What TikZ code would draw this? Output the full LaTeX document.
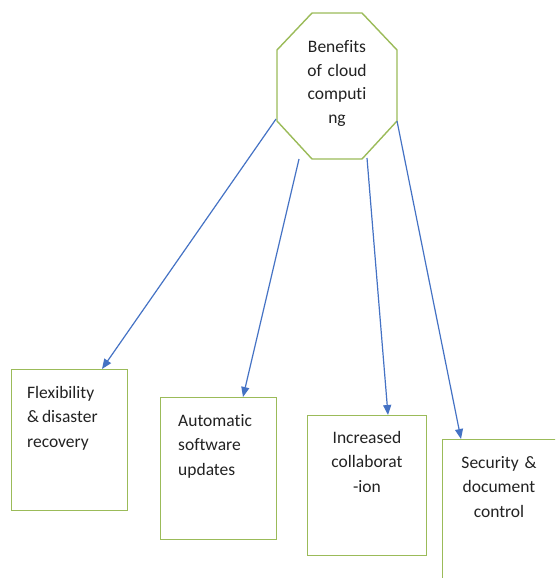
\documentclass[tikz,border=0pt]{standalone}
\usepackage{fontspec}
\setmainfont{Carlito}[Ligatures={NoCommon}]
\usetikzlibrary{arrows.meta,calc}
\definecolor{ogreen}{HTML}{9BBB59}
\definecolor{oblue}{HTML}{4472C4}
\definecolor{txt}{HTML}{222222}
\newcommand{\nl}{\kern0pt }
\tikzset{
  boxnode/.style={draw=ogreen, line width=1.4pt, anchor=north west, inner sep=0pt},
  octline/.style={draw=ogreen, line width=1.4pt, line join=miter},
  lbl/.style={font=\fontsize{17.5}{24.5}\selectfont, text=txt, inner sep=0pt},
  arr/.style={draw=oblue, line width=1.2pt, -{Triangle[length=10pt,width=8pt]}}
}
\begin{document}
\begin{tikzpicture}[x=1pt,y=-1pt]
\useasboundingbox (0,0) rectangle (555,578);
\clip (0,0) rectangle (555,578);
% octagon
\coordinate (v1) at (312,13);
\coordinate (v2) at (362,13);
\coordinate (v3) at (397,50);
\coordinate (v4) at (397,121);
\coordinate (v5) at (362,159);
\coordinate (v6) at (312,159);
\coordinate (v7) at (277,121);
\coordinate (v8) at (277,50);
\path[octline, fill=white] (v1) -- (v2) -- (v3) -- (v4) -- (v5) -- (v6) -- (v7) -- (v8) -- cycle;
\node[lbl, font=\fontsize{17.5}{23.5}\selectfont, text width=80pt, align=center, anchor=base] (oct) at (337,52.5) {Benef\nl its\\of cloud\\comput\nl i\\ng};
% boxes
\node[boxnode, minimum width=116pt, minimum height=141pt] (b1) at (11,369) {};
\node[boxnode, minimum width=116pt, minimum height=142pt] (b2) at (160,397) {};
\node[boxnode, minimum width=119pt, minimum height=140pt] (b3) at (307,415) {};
\node[boxnode, minimum width=150pt, minimum height=170pt] (b4) at (442,439) {};
% texts
\node[lbl, text width=100pt, align=left, anchor=base west] (t1) at (27,398) {Flexibility\\\&\,disaster\\recovery};
\node[lbl, text width=100pt, align=left, anchor=base west] (t2) at (178,426) {Automat\nl ic\\sof\nl tware\\updates};
\node[lbl, text width=110pt, align=center, anchor=base] (t3) at (367,443) {Increased\\collaborat\\-ion};
\node[lbl, text width=110pt, align=center, anchor=base] (t4) at (499,468) {Security \&\\document\\control};
% connector start points
\coordinate (s1) at (276,119);
\coordinate (s2) at (299,159);
\coordinate (s3) at (367,158);
\coordinate (s4) at (397,121);
% arrows
\draw[arr] (s1) -- ([xshift=91pt]b1.north west);
\draw[arr] (s2) -- ([xshift=83pt]b2.north west);
\draw[arr] (s3) -- ([xshift=81pt]b3.north west);
\draw[arr] (s4) -- ([xshift=19pt]b4.north west);
\end{tikzpicture}
\end{document}
